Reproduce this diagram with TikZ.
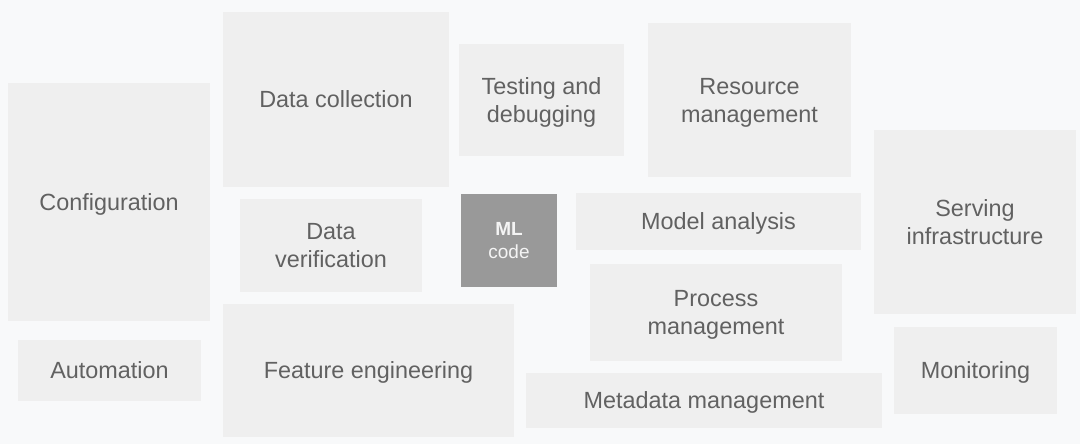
\documentclass[tikz,border=0pt]{standalone}
\usepackage{fontspec}
\setmainfont{Liberation Sans}
\definecolor{Canvas}{HTML}{F8F9FA}
\definecolor{Tile}{HTML}{EFEFEF}
\definecolor{Core}{HTML}{999999}
\definecolor{Label}{HTML}{616161}
\definecolor{CoreText}{HTML}{F4F4F4}
\tikzset{
  tile/.style={
    fill=Tile, text=Label, inner sep=0pt, outer sep=0pt, align=center,
    text depth=0pt, font=\fontsize{11.7}{14}\selectfont
  },
  core/.style={
    tile, fill=Core, text=CoreText, font=\fontsize{9.5}{11.5}\selectfont
  }
}
\begin{document}
\begin{tikzpicture}[x=0.5pt,y=-0.5pt]
  \fill[Canvas] (0,0) rectangle (1080,444);
  \useasboundingbox (0,0) rectangle (1080,444);
  % left column
  \node[tile,minimum width=101pt,minimum height=119pt] (config) at (109,202) {Configuration};
  \node[tile,minimum width=91.5pt,minimum height=30.5pt] (auto) at (109.5,370.5) {Automation};
  % data side
  \node[tile,minimum width=113pt,minimum height=87.5pt] (collect) at (336,99.5) {Data collection};
  \node[tile,minimum width=91pt,minimum height=46.5pt] (verify) at (331,245.5) {Data\\verification};
  \node[tile,minimum width=145.5pt,minimum height=66.5pt] (feature) at (368.5,370.5) {Feature engineering};
  % middle
  \node[tile,minimum width=82.5pt,minimum height=56pt] (testing) at (541.5,100) {Testing and\\debugging};
  \node[core,minimum width=48pt,minimum height=46.5pt] (mlcode) at (509,240.5) {\textbf{ML}\\code};
  \node[tile,minimum width=101.5pt,minimum height=77pt] (resource) at (749.5,100) {Resource\\management};
  \node[tile,minimum width=142.5pt,minimum height=28.5pt] (analysis) at (718.5,221.5) {Model analysis};
  \node[tile,minimum width=126pt,minimum height=48.5pt] (process) at (716,312.5) {Process\\management};
  \node[tile,minimum width=178pt,minimum height=27.5pt] (metadata) at (704,400.5) {Metadata management};
  % right column
  \node[tile,minimum width=101pt,minimum height=92pt] (serving) at (975,222) {Serving\\infrastructure};
  \node[tile,minimum width=81.5pt,minimum height=43.5pt] (monitor) at (975.5,370.5) {Monitoring};
\end{tikzpicture}
\end{document}
